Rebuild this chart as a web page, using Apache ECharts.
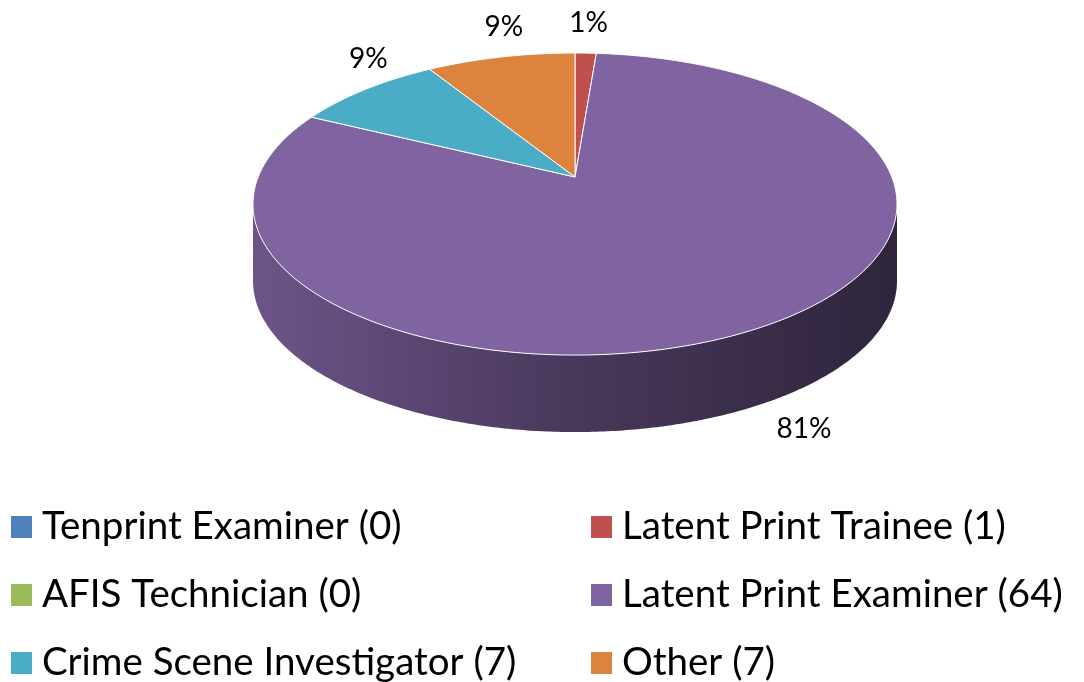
<!DOCTYPE html>
<html>
<head>
<meta charset="utf-8">
<script src="https://cdn.jsdelivr.net/npm/echarts@6/dist/echarts.min.js"></script>
<style>
  html, body { margin: 0; padding: 0; background: #fff; }
  #chart { width: 1084px; height: 682px; }
</style>
</head>
<body>
<div id="chart"></div>
<script>
const categories = ['Tenprint Examiner', 'Latent Print Trainee', 'AFIS Technician', 'Latent Print Examiner', 'Crime Scene Investigator', 'Other'];
const counts = [0, 1, 0, 64, 7, 7];
const colors = ['#4f81bd', '#c0504d', '#9bbb59', '#8064a2', '#4bacc6', '#dc843d'];

// 3d pie geometry (perspective ellipse)
const CX = 575, CY = 177, RX = 316.8, RY = 146.2, P = 0.179, DEPTH = 77;
const FONT = 'Lato, "Noto Sans", sans-serif';

const total = counts.reduce((a, b) => a + b, 0);
const starts = [];
counts.reduce((acc, v, i) => { starts[i] = acc; return acc + v; }, 0);
const names = categories.map((c, i) => c + ' (' + counts[i] + ')');

function proj(t, s) {
  const d = 1 + P * Math.cos(t);
  return [CX + RX * s * Math.sin(t) / d, CY - RY * s * Math.cos(t) / d];
}

function shade(hex, f) {
  const n = parseInt(hex.slice(1), 16);
  const r = Math.round(((n >> 16) & 255) * f);
  const g = Math.round(((n >> 8) & 255) * f);
  const b = Math.round((n & 255) * f);
  return 'rgb(' + r + ',' + g + ',' + b + ')';
}

const WALL_FROM = Math.acos(-P);
const WALL_TO = 2 * Math.PI - WALL_FROM;

function arc(a0, a1, s, dy) {
  const pts = [];
  const n = Math.max(2, Math.ceil((a1 - a0) / 0.01));
  for (let k = 0; k <= n; k++) {
    const p = proj(a0 + (a1 - a0) * k / n, s);
    pts.push([p[0], p[1] + dy]);
  }
  return pts;
}

function renderSlice(params, api) {
  const i = params.dataIndex;
  const v = api.value(0);
  if (!v) return null;
  const a0 = starts[i] / total * 2 * Math.PI;
  const a1 = (starts[i] + v) / total * 2 * Math.PI;
  const children = [];

  const w0 = Math.max(a0, WALL_FROM), w1 = Math.min(a1, WALL_TO);
  if (w1 > w0) {
    const upper = arc(w0, w1, 1, 0);
    const lower = arc(w0, w1, 1, DEPTH).reverse();
    children.push({
      type: 'polygon',
      shape: { points: upper.concat(lower) },
      style: {
        fill: new echarts.graphic.LinearGradient(CX - RX, 0, CX + RX, 0, [
          { offset: 0, color: shade(colors[i], 0.84) },
          { offset: 0.5, color: shade(colors[i], 0.56) },
          { offset: 1, color: shade(colors[i], 0.37) }
        ], true)
      }
    });
  }

  children.push({
    type: 'polygon',
    shape: { points: [[CX, CY]].concat(arc(a0, a1, 1, 0)) },
    style: { fill: colors[i], stroke: '#fff', lineWidth: 1 }
  });

  const mid = (a0 + a1) / 2;
  const r = proj(mid, 1);
  const front = Math.cos(mid) < -P;
  const sn = Math.sin(mid);
  children.push({
    type: 'text',
    style: {
      text: Math.round(v / total * 100) + '%',
      x: front ? r[0] + (sn > 0 ? 16 : -16) : r[0] + 3,
      y: front ? r[1] + DEPTH + 24 : r[1] - 30,
      align: front ? (sn > 0 ? 'left' : 'right') : 'center',
      verticalAlign: 'middle',
      fill: '#000',
      font: '28px ' + FONT
    }
  });
  return { type: 'group', children: children };
}

const chart = echarts.init(document.getElementById('chart'));

// one legend per entry: two columns, three rows
const legends = names.map((n, i) => ({
  left: i % 2 ? 591 : 11,
  top: 507 + Math.floor(i / 2) * 68,
  padding: 0,
  itemWidth: 21,
  itemHeight: 22,
  icon: 'rect',
  selectedMode: false,
  data: [n],
  textStyle: { fontSize: 38.5, fontFamily: FONT, color: '#000', lineHeight: 40, padding: [0, 0, 0, 5] }
}));

chart.setOption({
  backgroundColor: '#fff',
  animation: false,
  legend: legends,
  series: [
    {
      type: 'custom',
      coordinateSystem: 'none',
      silent: true,
      renderItem: renderSlice,
      data: counts
    },
    {
      // legend entries only
      type: 'pie',
      radius: [0, 0],
      center: [-100, -100],
      silent: true,
      label: { show: false },
      labelLine: { show: false },
      data: names.map((n, i) => ({ name: n, value: counts[i], itemStyle: { color: colors[i] } }))
    }
  ]
});
</script>
</body>
</html>
